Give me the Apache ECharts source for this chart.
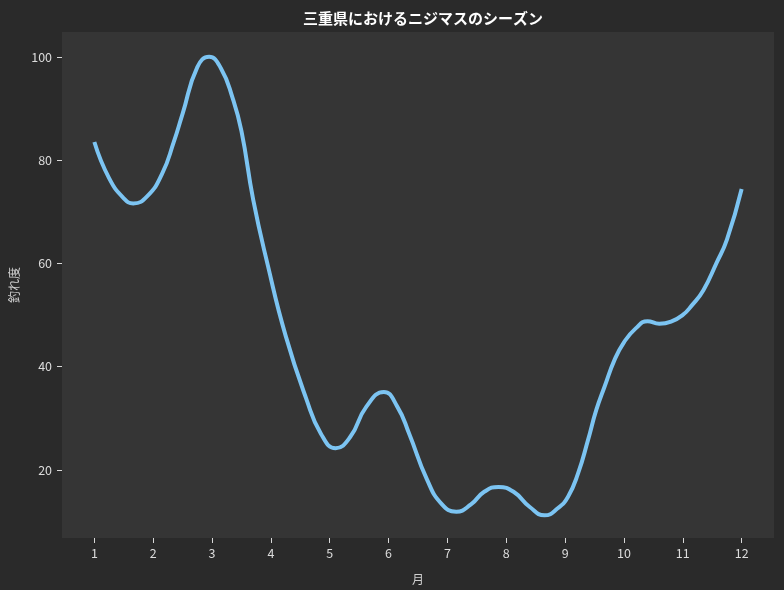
<!DOCTYPE html>
<html>
<head>
<meta charset="utf-8">
<script src="https://cdn.jsdelivr.net/npm/echarts@6/dist/echarts.min.js"></script>
<style>
  html, body { margin: 0; padding: 0; background: #2a2a2a; }
  #chart { width: 784px; height: 590px; }
</style>
</head>
<body>
<div id="chart"></div>
<script>
// 月（曲線を読み取った位置）
const months = [1.0, 1.25, 1.5, 1.66, 1.9, 2.15, 2.35, 2.5, 2.75, 2.95, 3.15, 3.35, 3.5, 3.7, 3.95, 4.25, 4.6, 4.85, 5.1, 5.35, 5.62, 5.92, 6.15, 6.35, 6.65, 6.9, 7.15, 7.4, 7.62, 7.87, 8.13, 8.4, 8.65, 8.88, 9.05, 9.22, 9.39, 9.53, 9.67, 9.84, 10.0, 10.2, 10.4, 10.6, 10.8, 11.0, 11.15, 11.35, 11.57, 11.75, 12.0];
// 釣れ度
const scores = [83.5, 76.5, 72.6, 71.6, 73.0, 77.3, 83.5, 89.0, 98.0, 100.0, 97.8, 92.0, 85.6, 72.3, 59.5, 46.0, 33.8, 27.0, 24.2, 26.4, 32.2, 35.1, 32.2, 27.0, 18.2, 13.4, 11.9, 13.3, 15.7, 16.7, 15.7, 12.8, 11.2, 12.6, 14.8, 19.3, 25.8, 31.6, 36.1, 41.3, 44.7, 47.4, 48.8, 48.3, 48.7, 50.0, 51.8, 54.8, 60.0, 64.6, 74.4];
// 目盛り
const xTicks = [1, 2, 3, 4, 5, 6, 7, 8, 9, 10, 11, 12];
const yTicks = [20, 40, 60, 80, 100];

const chart = echarts.init(document.getElementById("chart"));
const font = "'Noto Sans CJK JP', 'Noto Sans', sans-serif";

const option = {
  backgroundColor: "#2a2a2a",
  animation: false,
  title: {
    text: "三重県におけるニジマスのシーズン",
    left: 418,
    top: 6,
    textAlign: "center",
    textStyle: {
      color: "#ffffff",
      fontSize: 15,
      fontWeight: "bold",
      fontFamily: font
    }
  },
  grid: {
    left: 61,
    right: 10,
    top: 32,
    bottom: 52,
    show: true,
    backgroundColor: "#353535",
    borderWidth: 0
  },
  xAxis: {
    type: "value",
    min: 0.45,
    max: 12.55,
    name: "月",
    nameLocation: "middle",
    nameGap: 35,
    nameTextStyle: { color: "#d0d0d0", fontSize: 12, fontFamily: font },
    axisLine: { show: false },
    axisTick: {
      show: true,
      customValues: xTicks,
      length: 5,
      lineStyle: { color: "#d8d8d8", width: 1 }
    },
    axisLabel: {
      customValues: xTicks,
      color: "#dcdcdc",
      fontSize: 12.5,
      fontFamily: font,
      margin: 9
    },
    splitLine: { show: false }
  },
  yAxis: {
    type: "value",
    min: 6.8,
    max: 104.8,
    name: "釣れ度",
    nameLocation: "middle",
    nameGap: 42,
    nameRotate: 90,
    nameTextStyle: { color: "#d0d0d0", fontSize: 12, fontFamily: font },
    axisLine: { show: false },
    axisTick: {
      show: true,
      customValues: yTicks,
      length: 5,
      lineStyle: { color: "#d8d8d8", width: 1 }
    },
    axisLabel: {
      customValues: yTicks,
      color: "#dcdcdc",
      fontSize: 12.5,
      fontFamily: font,
      margin: 10
    },
    splitLine: { show: false }
  },
  series: [
    {
      type: "line",
      data: months.map((m, i) => [m, scores[i]]),
      smooth: 0.5,
      showSymbol: false,
      lineStyle: { color: "#7cc4f2", width: 4 },
      itemStyle: { color: "#7cc4f2" }
    }
  ]
};

chart.setOption(option);
</script>
</body>
</html>
